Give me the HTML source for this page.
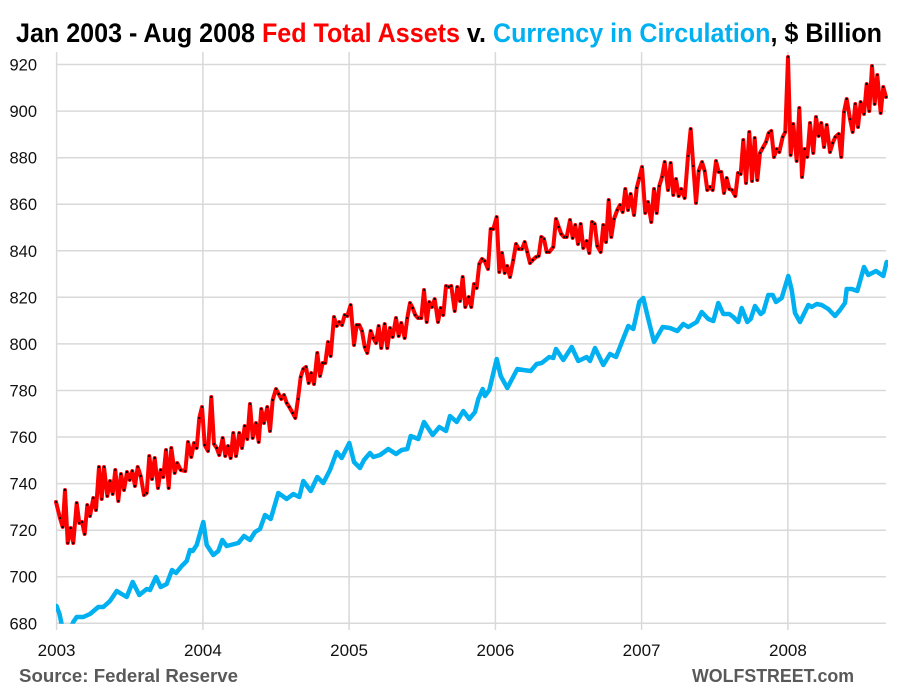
<!DOCTYPE html>
<html><head><meta charset="utf-8"><style>
html,body{margin:0;padding:0;background:#fff;}
svg{display:block;}
</style></head><body>
<svg width="900" height="700" viewBox="0 0 900 700" xmlns="http://www.w3.org/2000/svg">
<defs>
<clipPath id="pc"><rect x="56" y="50" width="832" height="573.8"/></clipPath>
<marker id="d" markerWidth="3.4" markerHeight="3.4" refX="1.7" refY="1.7" markerUnits="userSpaceOnUse"><circle cx="1.7" cy="1.7" r="1.15" fill="#000"/></marker>
</defs>
<rect width="900" height="700" fill="#fff"/>
<text x="16" y="42" font-family="Liberation Sans, sans-serif" font-weight="bold" font-size="27" textLength="866" lengthAdjust="spacingAndGlyphs" fill="#000">Jan 2003 - Aug 2008 <tspan fill="#FF0000">Fed Total Assets</tspan> v. <tspan fill="#00B0F0">Currency in Circulation</tspan>, $ Billion</text>
<g stroke="#D9D9D9" stroke-width="1.5">
<line x1="56" y1="64.5" x2="886" y2="64.5"/>
<line x1="56" y1="111.1" x2="886" y2="111.1"/>
<line x1="56" y1="157.7" x2="886" y2="157.7"/>
<line x1="56" y1="204.2" x2="886" y2="204.2"/>
<line x1="56" y1="250.8" x2="886" y2="250.8"/>
<line x1="56" y1="297.3" x2="886" y2="297.3"/>
<line x1="56" y1="343.9" x2="886" y2="343.9"/>
<line x1="56" y1="390.5" x2="886" y2="390.5"/>
<line x1="56" y1="437.0" x2="886" y2="437.0"/>
<line x1="56" y1="483.6" x2="886" y2="483.6"/>
<line x1="56" y1="530.2" x2="886" y2="530.2"/>
<line x1="56" y1="576.7" x2="886" y2="576.7"/>
<line x1="56" y1="623.3" x2="886" y2="623.3"/>
<line x1="56.6" y1="52" x2="56.6" y2="630"/>
<line x1="202.9" y1="52" x2="202.9" y2="630"/>
<line x1="349.1" y1="52" x2="349.1" y2="630"/>
<line x1="495.4" y1="52" x2="495.4" y2="630"/>
<line x1="641.6" y1="52" x2="641.6" y2="630"/>
<line x1="787.9" y1="52" x2="787.9" y2="630"/>
</g>
<g font-family="Liberation Sans, sans-serif" font-size="16.5" fill="#111" text-anchor="end">
<text x="37" y="70.5">920</text>
<text x="37" y="117.1">900</text>
<text x="37" y="163.7">880</text>
<text x="37" y="210.2">860</text>
<text x="37" y="256.8">840</text>
<text x="37" y="303.3">820</text>
<text x="37" y="349.9">800</text>
<text x="37" y="396.5">780</text>
<text x="37" y="443.0">760</text>
<text x="37" y="489.6">740</text>
<text x="37" y="536.2">720</text>
<text x="37" y="582.7">700</text>
<text x="37" y="629.3">680</text>
</g>
<g font-family="Liberation Sans, sans-serif" font-size="17" fill="#111" text-anchor="middle">
<text x="56.6" y="656">2003</text>
<text x="202.9" y="656">2004</text>
<text x="349.1" y="656">2005</text>
<text x="495.4" y="656">2006</text>
<text x="641.6" y="656">2007</text>
<text x="787.9" y="656">2008</text>
</g>
<g clip-path="url(#pc)">
<polyline fill="none" stroke="#00B0F0" stroke-width="4.5" stroke-linejoin="round" stroke-linecap="round" points="56.5,606 59.5,614 62,626 66,632 70,630 73.3,622 76.7,617 83.3,617 90,614 98.3,607 103.3,607 110,601 116.7,591 126.7,597 132.7,582 139.3,595 146.7,589 150,590 156,577 160.7,587 166.7,584 172,570 176,573 181.7,566 186.7,561 190,550 192.7,551 196.7,545 203.3,522 206.7,545 213.3,555 218.3,551 222.3,540 226.7,546 238.3,543 244,536 250,540 255,532 260,529 265,515 270.7,519 278.3,493 286.7,499 293.3,494 299.3,497 303.3,481 310.7,491 317.3,477 323.3,483 330,470 336.7,452 341.7,458 349.3,443 354,462 360,468 364,460 370,453 373.3,457 380,455 388.3,449 396,454 401.7,450 407.3,449 410.7,436 418.3,439 424,422 432.7,435 439.3,427 446,431 450,416 456.7,422 463.3,411 469.3,419 475,412 478.3,399 482.7,389 485,396 489.3,390 496.7,359 500.7,376 507.3,388 517.3,369 523.3,370 530.7,371 536.7,364 541.7,363 549.3,357 553.3,358 556,349 563.3,360 571.7,347 578.3,361 586.7,357 590,361 595,348 603.3,365 610,354 616,357 622.7,340 628.3,326 633.3,329 639.3,302 643.3,298 647.3,315 654,342 662.7,327 670,328 677.3,331 683.3,324 688.3,327 696.7,322 701.7,312 708.3,319 713.3,321 718.3,303 723.3,314 729.3,314 733.3,317 738.3,322 741.7,308 747.3,322 750.7,319 755,306 760.7,314 763.3,312 768.3,295 772.7,295 776,302 781.7,298 788.3,276 791.7,290 795,313 800,322 808.3,305 811.7,307 816.7,304 821.7,305 828.3,309 835,316 840,310 845,303 846.7,289 851.7,289 857.3,291 864,267 868.3,275 876,271 883.3,276 886.7,262"/>
</g>
<polyline fill="none" stroke="#FF0000" stroke-width="4" stroke-linejoin="round" stroke-linecap="round" marker-start="url(#d)" marker-mid="url(#d)" marker-end="url(#d)" points="56,502 60,518 62.7,527 65,490 67.7,543 70.7,528 73.3,543 76.7,503 79.3,523 82,522 84.7,534 87.3,505 90,516 93.3,498 96,510 99,467 101.7,499 104,467 107.3,496 110,481 112.7,494 115.3,470 118.3,501 121,474 124,490 127,472 129.7,480 132.3,471 135,486 137.7,467 140.7,476 144,495 146.7,493 149.3,456 152,479 154.7,458 158,488 160.7,470 163.3,477 166,450 168.7,488 171.3,448 174.7,473 177.3,463 180.7,470 185.3,471 188,442 191.3,457 194,443 196.7,448 199.3,418 202,407 204.7,445 208,451 211.3,397 214,444 216.7,448 219.3,455 222.7,438 225.3,456 228,446 230.7,458 233.3,433 236,456 239.3,433 242,448 244.7,426 247.3,439 250,404 252.7,438 256,423 258.7,442 261.3,409 264,423 267.3,407 270,431 272.7,400 276,389 278.7,394 281.3,399 284,395 286.7,403 289.3,407 292.7,413 295.3,418 298,399 300.7,377 303.3,369 306,367 308.7,383 311.3,373 314,384 317.3,353 320,376 322.7,363 325.3,363 328,342 330.7,356 334,317 336.7,326 339.3,322 342,325 344.7,315 347.3,316 350.7,305 354,345 356.7,325 359.3,325 362,331 364.7,347 367.3,353 370.7,331 373.3,338 376,343 378.7,326 381.3,348 384.7,324 387.3,348 390,328 392.7,337 396,318 398.7,336 401.3,323 404.7,338 407.3,318 410,303 412.7,308 415.3,315 418,318 421.3,318 424,290 426.7,322 429.3,302 432,307 434.7,299 438,322 440.7,308 443.3,315 446,286 448.7,287 451.3,286 454.7,311 457.3,287 460,301 462.7,277 465.3,307 468.7,297 471.3,307 474,284 476.7,288 479.3,264 482,259 484.7,261 488,269 490.7,229 493.3,229 496.7,217 499.3,272 502,253 504.7,273 507.3,266 510,277 513.3,260 516,244 518.7,249 522,249 524.7,242 527.3,252 530,263 532.7,260 536,257 538.7,256 541.3,237 544,239 546.7,252 549.3,252 553.3,247 556,219 558.7,227 561.3,234 564,237 566.7,237 570,220 572.7,238 575.3,225 578,244 580.7,224 583.3,248 586.7,241 589.3,253 592,222 594.7,224 597.3,246 600.7,252 603.3,225 606,242 608.7,200 611.3,237 614,219 617.3,210 620,205 622.7,212 625.3,189 628,210 630.7,194 634,215 636.7,188 639.3,178 642,167 645.3,213 648,202 651.3,222 654,189 656.7,213 659.3,186 662,177 664.7,162 668,190 670.7,163 673.3,195 676,179 678.7,196 681.3,189 684.7,198 688,156 690.7,129 693.3,166 696,203 698.7,171 702,162 704.7,171 707.3,190 710,187 712.7,190 716,161 718.7,172 721.3,172 724,193 726.7,178 729.3,189 732,190 735.3,196 738,173 740.7,174 743.3,140 746,183 749.3,132 752,181 754.7,138 757.3,180 760,153 762.7,148 766,142 768.7,133 771.3,131 774,157 776.7,149 779.3,152 782.7,137 785.3,132 788,57 790.7,155 793.3,124 796.7,161 799.3,108 802,177 804.7,149 807.3,157 810,123 813.3,153 816,117 818.7,136 821.3,123 824,147 826.7,125 830,152 832.7,143 835.3,137 838.7,134 841.3,157 844,112 846.7,99 850,119 852.7,132 855.3,104 858,127 860.7,102 864,114 866.7,84 869.3,111 872,66 874.7,104 877.3,75 880.7,113 883.3,87 886,97"/>
<text x="19" y="682" font-family="Liberation Sans, sans-serif" font-weight="bold" font-size="18.5" fill="#595959" textLength="219" lengthAdjust="spacingAndGlyphs">Source: Federal Reserve</text>
<text x="692" y="682" font-family="Liberation Sans, sans-serif" font-weight="bold" font-size="18.5" fill="#595959" textLength="162" lengthAdjust="spacingAndGlyphs">WOLFSTREET.com</text>
</svg>
</body></html>
